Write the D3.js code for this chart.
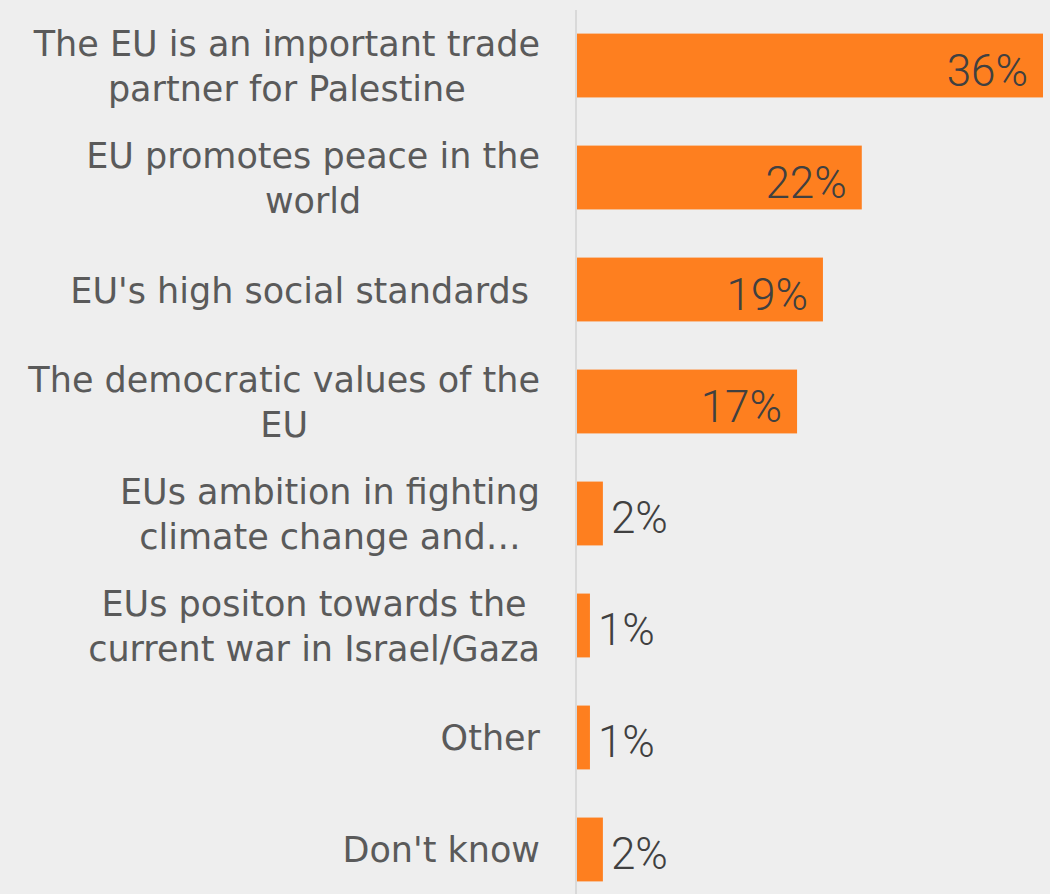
<!DOCTYPE html>
<html>
<head>
<meta charset="utf-8">
<style>
  html, body { margin: 0; padding: 0; background: #eeeeee; }
  svg { display: block; }
  .cat { font-family: "DejaVu Sans", sans-serif; fill: #5a5a5a; white-space: pre; }
  .val { font-family: Roboto, "Open Sans", sans-serif; font-weight: 300; fill: #404040; }
</style>
</head>
<body>
<svg width="1050" height="894"></svg>
<script src="https://d3js.org/d3.v7.min.js"></script>
<script>
// data
var categories = [
  "The EU is an important trade partner for Palestine",
  "EU promotes peace in the world",
  "EU's high social standards",
  "The democratic values of the EU",
  "EUs ambition in fighting climate change and…",
  "EUs positon towards the current war in Israel/Gaza",
  "Other",
  "Don't know"
];
// how the labels wrap in the original
var labelLines = [
  ["The EU is an important trade", "partner for Palestine"],
  ["EU promotes peace in the", "world"],
  ["EU's high social standards "],
  ["The democratic values of the", "EU"],
  ["EUs ambition in fighting", "climate change and…"],
  ["EUs positon towards the", "current war in Israel/Gaza"],
  ["Other"],
  ["Don't know"]
];
var values = [36, 22, 19, 17, 2, 1, 1, 2];

var svg = d3.select("svg"),
    width = +svg.attr("width"),
    height = +svg.attr("height");

var x0 = 577, labelRight = 540;

var x = d3.scaleLinear().domain([0, 36]).range([x0, 1043]);
var y = d3.scaleBand().domain(categories).range([0, 915]).paddingInner(0.43).paddingOuter(0.3);

// axis line
svg.append("line")
    .attr("x1", x0 - 1).attr("x2", x0 - 1)
    .attr("y1", 10).attr("y2", height)
    .attr("stroke", "#d9d9d9").attr("stroke-width", 2);

svg.selectAll(".bar")
  .data(categories)
  .enter().append("rect")
    .attr("class", "bar")
    .attr("x", x(0))
    .attr("y", function(d) { return y(d); })
    .attr("width", function(d, i) { return x(values[i]) - x(0); })
    .attr("height", y.bandwidth())
    .attr("fill", "#fe7f1f");

// value labels: inside end for long bars, outside for short ones
svg.selectAll(".val")
  .data(categories)
  .enter().append("text")
    .attr("class", "val")
    .style("font-size", "44px")
    .attr("x", function(d, i) { return values[i] > 5 ? x(values[i]) - 15 : x(values[i]) + 8; })
    .attr("y", function(d) { return y(d) + y.bandwidth() / 2 + 20; })
    .attr("text-anchor", function(d, i) { return values[i] > 5 ? "end" : "start"; })
    .text(function(d, i) { return values[i] + "%"; });

// category labels, block right aligned, lines centred in the block
var lineH = 45;
categories.forEach(function(c, i) {
  var lines = labelLines[i];
  var g = svg.append("g");
  var cy = y(c) + y.bandwidth() / 2;
  var texts = lines.map(function(l, j) {
    return g.append("text")
      .attr("class", "cat")
      .style("font-size", "35px")
      .attr("y", cy + (j - (lines.length - 1) / 2) * lineH + 13)
      .text(l);
  });
  var w = d3.max(texts, function(t) { return t.node().getComputedTextLength(); });
  texts.forEach(function(t) {
    t.attr("x", labelRight - w / 2).attr("text-anchor", "middle");
  });
});
</script>
</body>
</html>
